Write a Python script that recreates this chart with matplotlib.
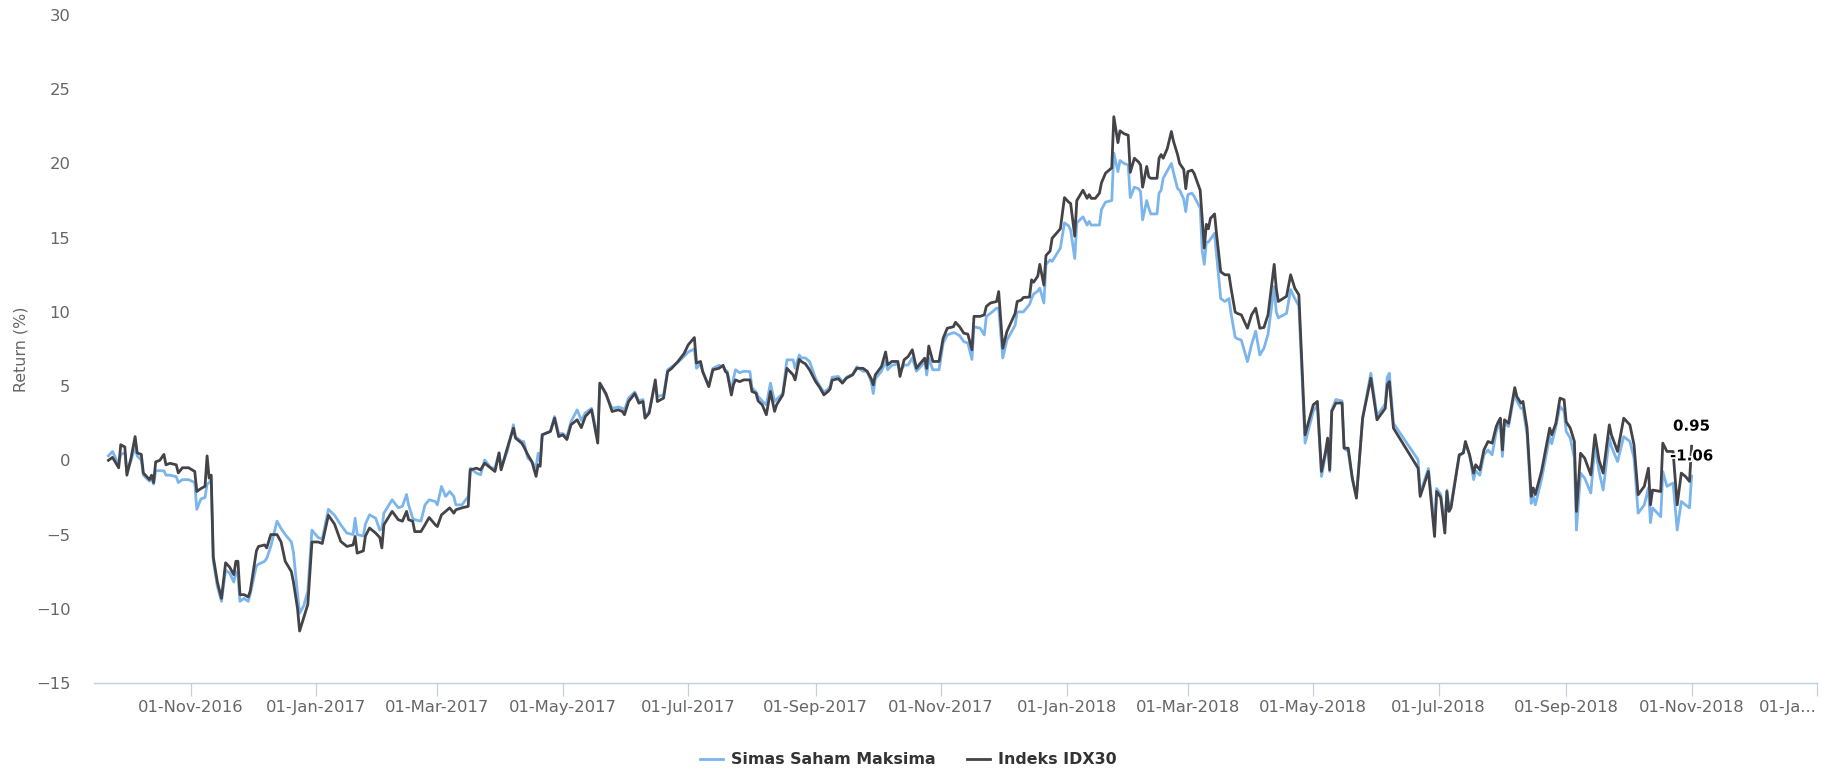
import matplotlib
matplotlib.use("Agg")
import matplotlib.pyplot as plt
import matplotlib.patheffects as pe
from matplotlib.lines import Line2D
import pandas as pd

# ---------------- data ----------------
dates_a = ["2016-09-22", "2016-09-24", "2016-09-27", "2016-09-28", "2016-09-30",
           "2016-10-01", "2016-10-03", "2016-10-05", "2016-10-06", "2016-10-08", "2016-10-09",
           "2016-10-12", "2016-10-13", "2016-10-14", "2016-10-15", "2016-10-17", "2016-10-19",
           "2016-10-20", "2016-10-22", "2016-10-25", "2016-10-26", "2016-10-28", "2016-10-31",
           "2016-11-03", "2016-11-04", "2016-11-06", "2016-11-08", "2016-11-09", "2016-11-10",
           "2016-11-11", "2016-11-12", "2016-11-14", "2016-11-16", "2016-11-18", "2016-11-20",
           "2016-11-22", "2016-11-23", "2016-11-24", "2016-11-25", "2016-11-27", "2016-11-29",
           "2016-11-30", "2016-12-03", "2016-12-04", "2016-12-07", "2016-12-08", "2016-12-10",
           "2016-12-13", "2016-12-15", "2016-12-17", "2016-12-20", "2016-12-21", "2016-12-23",
           "2016-12-24", "2016-12-26", "2016-12-28", "2016-12-30", "2017-01-02", "2017-01-04",
           "2017-01-07", "2017-01-10"]
idx30_a = [0.0, 0.2, -0.5, 1.05, 0.9,
           -1.0, 0.15, 1.6, 0.5, 0.4, -0.85, -1.3, -1.0, -1.5, -0.1, 0.0, 0.4, -0.3, -0.2,
           -0.3, -0.85, -0.5, -0.5,
           -0.75, -2.1, -1.9, -1.75, 0.3, -1.2, -1.0, -6.5, -8.2, -9.3, -6.9, -7.2, -7.7,
           -6.8, -6.8, -9.05, -9.05, -9.2, -8.8,
           -6.1, -5.8, -5.7, -5.9, -5.0, -5.0, -5.5, -6.8, -7.5, -8.2, -10.0, -11.5, -10.6,
           -9.7, -5.5,
           -5.5, -5.6, -3.7, -4.3]
simas_a = [0.3, 0.6, -0.3, 0.4, 0.5,
           -0.8, 0.0, 0.9, 0.3, 0.0, -1.0, -1.4, -1.2, -1.6, -0.7, -0.7, -0.7, -1.0, -1.0,
           -1.1, -1.5, -1.3, -1.3,
           -1.5, -3.3, -2.6, -2.5, -1.6, -1.5, -1.3, -6.8, -8.5, -9.5, -7.4, -7.6, -8.2,
           -7.5, -7.8, -9.5, -9.3, -9.5, -9.0,
           -7.1, -7.0, -6.8, -6.6, -5.8, -4.1, -4.6, -5.0, -5.5, -6.2, -9.0, -10.3, -9.8,
           -8.8, -4.7,
           -5.2, -5.3, -3.3, -3.7]

dates_b = ["2017-01-13", "2017-01-16", "2017-01-19", "2017-01-20", "2017-01-21", "2017-01-24",
           "2017-01-25", "2017-01-27", "2017-01-30", "2017-02-01", "2017-02-02", "2017-02-03",
           "2017-02-07", "2017-02-10", "2017-02-12", "2017-02-14", "2017-02-15", "2017-02-17",
           "2017-02-18", "2017-02-21", "2017-02-23", "2017-02-25", "2017-02-28", "2017-03-01",
           "2017-03-03", "2017-03-05", "2017-03-07", "2017-03-09", "2017-03-10", "2017-03-13",
           "2017-03-16", "2017-03-17", "2017-03-20", "2017-03-22", "2017-03-24", "2017-03-27",
           "2017-03-29", "2017-03-31", "2017-04-01", "2017-04-04", "2017-04-07", "2017-04-08",
           "2017-04-11", "2017-04-12", "2017-04-14", "2017-04-16", "2017-04-18", "2017-04-19",
           "2017-04-20", "2017-04-21", "2017-04-25", "2017-04-27", "2017-04-29", "2017-05-01",
           "2017-05-03"]
idx30_b = [-5.46, -5.8, -5.7, -5.13, -6.25, -6.1, -5.1, -4.56, -4.9, -5.2, -5.9, -4.34,
           -3.44, -4.0, -4.1, -3.44, -4.0, -4.1, -4.8, -4.8, -4.34, -3.85, -4.34, -4.46,
           -3.67, -3.44, -3.2, -3.56, -3.33, -3.2, -3.1, -0.64, -0.53, -0.64, -0.19, -0.53,
           -0.75, 0.5, -0.64, 0.82, 2.17, 1.5, 1.16, 0.93, 0.37, -0.1, -1.08, -0.3,
           -0.4, 1.72, 1.95, 2.84, 1.6, 1.72, 1.4]
simas_b = [-4.34, -4.9, -5.0, -3.9, -5.0, -5.1, -4.3, -3.67, -3.9, -4.7, -4.6, -3.56,
           -2.66, -3.2, -3.1, -2.3, -3.0, -3.9, -4.0, -4.1, -3.0, -2.66, -2.77, -3.0,
           -1.76, -2.43, -2.1, -2.43, -3.0, -3.0, -2.43, -0.53, -0.86, -0.97, 0.03, -0.5,
           -0.53, 0.5, -0.53, 0.6, 2.4, 1.6, 1.27, 1.27, 0.15, -0.1, -0.5, 0.48,
           -0.1, 1.72, 1.95, 2.95, 1.8, 1.8, 1.6]

dates_c = ["2017-05-05", "2017-05-08", "2017-05-10", "2017-05-12", "2017-05-15", "2017-05-18",
           "2017-05-19", "2017-05-22", "2017-05-25", "2017-05-28", "2017-05-30", "2017-05-31",
           "2017-06-02", "2017-06-05", "2017-06-06", "2017-06-07", "2017-06-09", "2017-06-10",
           "2017-06-12", "2017-06-15", "2017-06-16", "2017-06-19", "2017-06-21", "2017-06-23",
           "2017-06-26", "2017-06-29", "2017-07-01", "2017-07-04", "2017-07-05", "2017-07-07",
           "2017-07-08", "2017-07-11", "2017-07-13", "2017-07-16", "2017-07-18", "2017-07-19",
           "2017-07-20", "2017-07-22", "2017-07-23", "2017-07-24", "2017-07-26", "2017-07-28",
           "2017-07-31", "2017-08-01", "2017-08-03", "2017-08-04", "2017-08-06", "2017-08-08",
           "2017-08-10", "2017-08-12", "2017-08-13", "2017-08-16", "2017-08-18", "2017-08-21",
           "2017-08-22", "2017-08-24", "2017-08-25"]
idx30_c = [2.4, 2.73, 2.2, 2.96, 3.4, 1.16, 5.2, 4.5, 3.29, 3.4, 3.29, 3.07,
           3.96, 4.5, 4.19, 3.85, 3.96, 2.84, 3.18, 5.42, 3.96, 4.19, 5.98, 6.2,
           6.66, 7.2, 7.78, 8.27, 6.55, 6.66, 6.0, 4.97, 6.1, 6.2, 6.4, 6.0,
           5.87, 4.4, 5.1, 5.42, 5.3, 5.42, 5.42, 4.64, 4.52, 4.0, 3.74, 3.07,
           4.64, 3.3, 3.74, 4.41, 6.2, 5.76, 5.42, 6.8, 6.66]
simas_c = [2.6, 3.4, 2.7, 3.2, 3.5, 1.5, 5.2, 4.4, 3.5, 3.6, 3.5, 3.4,
           4.2, 4.6, 4.3, 4.0, 4.1, 2.95, 3.3, 5.2, 4.3, 4.4, 6.1, 6.3,
           6.6, 7.0, 7.3, 7.5, 6.2, 6.5, 6.0, 4.97, 6.2, 6.4, 6.3, 6.1,
           6.0, 4.6, 5.5, 6.1, 5.9, 6.0, 5.98, 4.9, 4.6, 4.3, 4.0, 3.74,
           5.2, 3.96, 4.1, 4.5, 6.77, 6.77, 6.2, 7.1, 6.9]

dates_d = ["2017-08-27", "2017-08-29", "2017-09-01", "2017-09-03", "2017-09-05", "2017-09-07",
           "2017-09-08", "2017-09-09", "2017-09-12", "2017-09-14", "2017-09-16", "2017-09-19",
           "2017-09-21", "2017-09-24", "2017-09-26", "2017-09-28", "2017-09-29", "2017-09-30",
           "2017-10-03", "2017-10-05", "2017-10-06", "2017-10-08", "2017-10-11", "2017-10-12",
           "2017-10-14", "2017-10-16", "2017-10-18", "2017-10-20", "2017-10-22", "2017-10-24",
           "2017-10-25", "2017-10-26", "2017-10-28", "2017-10-31", "2017-11-02", "2017-11-04",
           "2017-11-07", "2017-11-08", "2017-11-10", "2017-11-12", "2017-11-14", "2017-11-16",
           "2017-11-17", "2017-11-20", "2017-11-22", "2017-11-23", "2017-11-25", "2017-11-28",
           "2017-11-29", "2017-12-01", "2017-12-03", "2017-12-07", "2017-12-08", "2017-12-10",
           "2017-12-11", "2017-12-14", "2017-12-15", "2017-12-16", "2017-12-18", "2017-12-19",
           "2017-12-21", "2017-12-22", "2017-12-24"]
idx30_d = [6.5, 6.1, 5.3, 4.9, 4.41, 4.64, 4.8, 5.4, 5.5, 5.2, 5.54, 5.76,
           6.2, 6.2, 6.0, 5.5, 5.09, 5.76, 6.32, 7.3, 6.43, 6.66, 6.66, 5.65,
           6.77, 7.0, 7.45, 6.2, 6.55, 6.88, 6.2, 7.7, 6.66, 6.66, 8.23, 8.9,
           9.0, 9.3, 9.0, 8.57, 8.5, 7.45, 9.7, 9.7, 9.8, 10.37, 10.6, 10.7,
           11.37, 7.55, 8.68, 9.9, 10.7, 10.8, 10.97, 11.0, 12.16, 12.0, 12.4, 13.2,
           11.8, 13.8, 14.1]
simas_d = [6.9, 6.66, 5.5, 5.0, 4.6, 4.8, 5.0, 5.6, 5.65, 5.3, 5.6, 5.8,
           6.3, 6.0, 6.0, 5.3, 4.5, 5.5, 6.0, 6.66, 6.1, 6.4, 6.5, 6.0,
           6.4, 6.43, 6.9, 6.0, 6.3, 6.7, 5.75, 6.88, 6.1, 6.1, 7.9, 8.45,
           8.6, 8.56, 8.4, 8.0, 7.9, 6.8, 9.0, 8.9, 8.45, 9.7, 9.9, 10.25,
           10.25, 6.9, 8.1, 9.1, 10.0, 10.0, 10.0, 10.5, 10.9, 11.2, 11.4, 11.6,
           10.6, 13.2, 13.5]

dates_e = ["2017-12-25", "2017-12-29", "2017-12-31", "2018-01-02", "2018-01-03", "2018-01-05",
           "2018-01-06", "2018-01-09", "2018-01-11", "2018-01-12", "2018-01-13", "2018-01-15",
           "2018-01-17", "2018-01-18", "2018-01-20", "2018-01-23", "2018-01-24", "2018-01-26",
           "2018-01-27", "2018-01-29", "2018-01-31", "2018-02-01", "2018-02-03", "2018-02-05",
           "2018-02-06", "2018-02-07", "2018-02-09", "2018-02-10", "2018-02-11", "2018-02-14",
           "2018-02-15", "2018-02-16", "2018-02-17", "2018-02-19", "2018-02-21", "2018-02-22",
           "2018-02-24", "2018-02-25", "2018-02-27", "2018-02-28", "2018-03-01", "2018-03-03",
           "2018-03-04", "2018-03-07", "2018-03-08", "2018-03-09", "2018-03-10", "2018-03-11",
           "2018-03-12", "2018-03-14", "2018-03-15", "2018-03-17", "2018-03-19", "2018-03-21",
           "2018-03-22", "2018-03-24", "2018-03-25", "2018-03-27", "2018-03-30", "2018-04-01",
           "2018-04-03", "2018-04-05", "2018-04-07", "2018-04-09", "2018-04-12", "2018-04-13",
           "2018-04-14"]
idx30_e = [14.96, 15.6, 17.7, 17.4, 17.3, 15.1, 17.5, 18.2, 17.65, 17.9, 17.65, 17.65,
           18.0, 18.7, 19.35, 19.7, 23.15, 21.4, 22.2, 22.0, 21.9, 19.4, 20.35, 20.1,
           19.9, 18.4, 19.8, 19.1, 19.0, 19.0, 20.35, 20.6, 20.35, 21.0, 22.15, 21.5,
           20.6, 20.0, 19.6, 18.3, 19.45, 19.55, 19.35, 18.2, 16.2, 14.3, 15.9, 15.6,
           16.3, 16.6, 15.2, 12.7, 12.5, 12.5, 11.6, 10.0, 9.9, 9.8, 8.9, 9.8,
           10.25, 8.9, 8.95, 9.8, 13.2, 11.6, 10.7]
simas_e = [13.4, 14.3, 16.0, 15.8, 15.5, 13.6, 16.0, 16.4, 15.85, 16.1, 15.85, 15.85,
           15.85, 16.9, 17.4, 17.5, 20.7, 19.45, 20.2, 20.0, 19.9, 17.7, 18.4, 18.3,
           18.1, 16.2, 17.5, 17.0, 16.6, 16.6, 18.0, 18.2, 19.0, 19.5, 20.0, 19.4,
           18.3, 18.2, 17.6, 16.75, 17.9, 18.0, 17.8, 17.0, 14.1, 13.2, 14.7, 14.7,
           14.9, 15.3, 13.8, 10.9, 10.7, 10.9, 9.9, 8.3, 8.2, 8.1, 6.65, 7.8,
           8.7, 7.1, 7.55, 8.5, 11.7, 10.0, 9.6]

dates_f = ["2018-04-18", "2018-04-20", "2018-04-22", "2018-04-24", "2018-04-27",
           "2018-05-01", "2018-05-03", "2018-05-05", "2018-05-07", "2018-05-08", "2018-05-09",
           "2018-05-10", "2018-05-12", "2018-05-15", "2018-05-16", "2018-05-18", "2018-05-20",
           "2018-05-22", "2018-05-25", "2018-05-29",
           "2018-06-01", "2018-06-05", "2018-06-06", "2018-06-07", "2018-06-09", "2018-06-21",
           "2018-06-22", "2018-06-26", "2018-06-29", "2018-06-30",
           "2018-07-02", "2018-07-04", "2018-07-05", "2018-07-06", "2018-07-07", "2018-07-09",
           "2018-07-11", "2018-07-13", "2018-07-14", "2018-07-16", "2018-07-18", "2018-07-19",
           "2018-07-21", "2018-07-23", "2018-07-25", "2018-07-27", "2018-07-29", "2018-07-30",
           "2018-07-31",
           "2018-08-01", "2018-08-02", "2018-08-04", "2018-08-07", "2018-08-08", "2018-08-10",
           "2018-08-11", "2018-08-13", "2018-08-15", "2018-08-16", "2018-08-17", "2018-08-20",
           "2018-08-24", "2018-08-25", "2018-08-27", "2018-08-29", "2018-08-31",
           "2018-09-01", "2018-09-03", "2018-09-05", "2018-09-06", "2018-09-08", "2018-09-10",
           "2018-09-13", "2018-09-15", "2018-09-17", "2018-09-19", "2018-09-22", "2018-09-23",
           "2018-09-26", "2018-09-29",
           "2018-10-02", "2018-10-04", "2018-10-06", "2018-10-09", "2018-10-11", "2018-10-12",
           "2018-10-13", "2018-10-17", "2018-10-18", "2018-10-20", "2018-10-23", "2018-10-25",
           "2018-10-27", "2018-10-29", "2018-10-31", "2018-11-01"]
idx30_f = [11.05, 12.5, 11.6, 11.15, 1.72,
           3.74, 3.97, -0.75, 0.6, 1.5, -0.64, 3.3, 3.86, 3.86, 0.82, 0.82, -1.2, -2.55,
           2.84, 5.53,
           2.73, 3.5, 5.09, 5.3, 2.17, -0.53, -2.43, -0.75, -5.13, -2.1,
           -2.5, -4.9, -2.1, -3.44, -3.2, -1.4, 0.37, 0.5, 1.27, 0.37, -0.86, -0.3,
           -0.64, 0.7, 1.27, 1.16, 2.28, 2.6, 2.84,
           0.7, 2.73, 2.5, 4.9, 4.3, 3.85, 3.97, 2.17, -2.43, -1.86, -2.3, -0.75,
           2.17, 1.72, 2.5, 4.19, 4.08,
           2.6, 2.17, 1.27, -3.44, 0.48, 0.15, -0.98, 1.72, 0.0, -0.86, 2.39, 1.72,
           0.6, 2.84,
           2.39, 1.05, -2.32, -1.75, -0.53, -3.0, -2.0, -2.1, 1.16, 0.6, 0.6, -3.0,
           -0.86, -1.08, -1.42, 0.95]
simas_f = [9.9, 11.5, 10.9, 10.4, 1.16,
           3.3, 3.74, -1.08, 0.4, 1.3, -0.75, 3.4, 4.1, 4.0, 0.82, 0.6, -1.3, -2.4,
           2.84, 5.87,
           3.0, 3.8, 5.6, 5.87, 2.5, 0.03, -2.2, -0.55, -4.6, -1.9,
           -2.3, -4.4, -2.0, -3.2, -3.0, -1.3, 0.3, 0.5, 1.16, 0.4, -1.3, -0.7,
           -1.0, 0.37, 0.7, 0.37, 1.95, 2.3, 2.5,
           0.26, 2.5, 2.28, 4.64, 4.0, 3.5, 3.5, 1.72, -2.9, -2.4, -3.0, -1.3,
           1.6, 1.12, 2.28, 3.63, 3.3,
           1.95, 1.5, 0.15, -4.7, -0.86, -1.2, -2.2, 1.05, -0.75, -2.0, 1.5, 0.93,
           -0.08, 1.6,
           1.27, 0.15, -3.56, -3.0, -1.86, -4.2, -3.2, -3.8, -0.75, -1.75, -1.53, -4.7,
           -2.77, -3.0, -3.2, -1.06]

tick_dates = ["2016-11-01", "2017-01-01", "2017-03-01", "2017-05-01", "2017-07-01",
              "2017-09-01", "2017-11-01", "2018-01-01", "2018-03-01", "2018-05-01",
              "2018-07-01", "2018-09-01", "2018-11-01", "2019-01-01"]
tick_labels = ["01-Nov-2016", "01-Jan-2017", "01-Mar-2017", "01-May-2017", "01-Jul-2017",
               "01-Sep-2017", "01-Nov-2017", "01-Jan-2018", "01-Mar-2018", "01-May-2018",
               "01-Jul-2018", "01-Sep-2018", "01-Nov-2018", "01-Ja..."]
y_ticks = [-15, -10, -5, 0, 5, 10, 15, 20, 25, 30]
series_names = ["Simas Saham Maksima", "Indeks IDX30"]

# ---------------- assemble ----------------
date_str = dates_a + dates_b + dates_c + dates_d + dates_e + dates_f
idx30 = idx30_a + idx30_b + idx30_c + idx30_d + idx30_e + idx30_f
simas = simas_a + simas_b + simas_c + simas_d + simas_e + simas_f
for nm, (d, i, s) in zip("abcdef", [(dates_a, idx30_a, simas_a), (dates_b, idx30_b, simas_b),
                                    (dates_c, idx30_c, simas_c), (dates_d, idx30_d, simas_d),
                                    (dates_e, idx30_e, simas_e), (dates_f, idx30_f, simas_f)]):
    if not (len(d) == len(i) == len(s)):
        raise ValueError(f"segment {nm}: {len(d)} {len(i)} {len(s)}")
dates = pd.to_datetime(date_str)

# ---------------- figure ----------------
W, H = 1831, 770
fig = plt.figure(figsize=(W / 100, H / 100), dpi=100)
ax = fig.add_axes([94 / W, 1 - 683 / H, (1817 - 94) / W, (683 - 15) / H])

c_blue, c_dark = "#7cb5ec", "#434348"
ax.plot(dates, simas, color=c_blue, lw=2.0, solid_joinstyle="round", zorder=2)
ax.plot(dates, idx30, color=c_dark, lw=2.0, solid_joinstyle="round", zorder=3)

ax.set_ylim(-15, 30)
ax.set_yticks(y_ticks)
ax.set_xlim(pd.Timestamp("2016-09-15"), pd.Timestamp("2019-01-01"))
ax.set_xticks(pd.to_datetime(tick_dates))
ax.set_xticklabels(tick_labels)
ax.get_xticklabels()[-1].set_horizontalalignment("right")

for s in ["top", "right", "left"]:
    ax.spines[s].set_visible(False)
ax.spines["bottom"].set_color("#C0D0E0")
ax.spines["bottom"].set_linewidth(1.0)
ax.tick_params(axis="x", length=9.5, width=0.9, color="#C0D0E0", pad=2.5,
               labelsize=11.8, labelcolor="#666666")
ax.tick_params(axis="y", length=0, pad=17, labelsize=11.8, labelcolor="#666666")
ax.set_ylabel("Return (%)", fontsize=11.4, color="#666666")
ax.yaxis.set_label_coords(-0.0383, 0.5)

# end-point data labels
for vals in (idx30, simas):
    ax.annotate(f"{vals[-1]:.2f}", xy=(dates[-1], vals[-1]), xytext=(0, 14.5),
                textcoords="offset points", ha="center", va="center",
                fontsize=10.8, fontweight="bold", color="black", zorder=5,
                path_effects=[pe.withStroke(linewidth=2.5, foreground="white")])

handles = [Line2D([], [], color=c_blue, lw=2.0), Line2D([], [], color=c_dark, lw=2.0)]
fig.legend(handles, series_names, loc="center", bbox_to_anchor=(908 / W, 1 - 760 / H),
           ncol=2, frameon=False, prop={"weight": "bold", "size": 11.4},
           labelcolor="#333333", handlelength=1.45, handletextpad=0.5, columnspacing=2.0)

fig.savefig("out.png", dpi=100)
